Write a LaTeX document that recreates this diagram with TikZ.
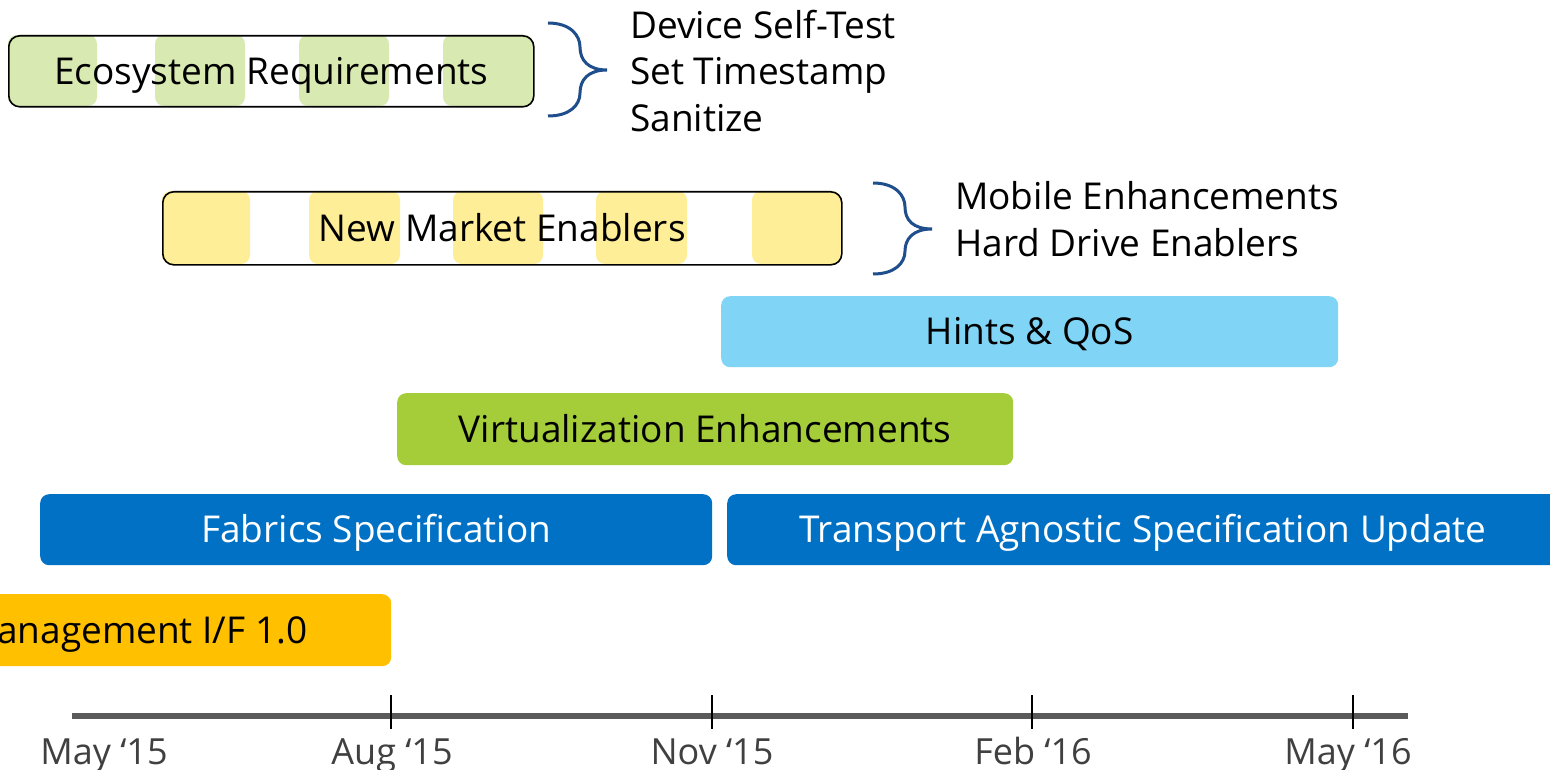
\documentclass[tikz,border=0pt]{standalone}
\usepackage{fontspec}
\setmainfont{Open Sans}
\definecolor{ecogreen}{RGB}{216,234,178}
\definecolor{nmyellow}{RGB}{255,238,152}
\definecolor{hintblue}{RGB}{128,212,246}
\definecolor{virtgreen}{RGB}{165,205,57}
\definecolor{fabblue}{RGB}{0,113,197}
\definecolor{mgmtyellow}{RGB}{255,192,0}
\definecolor{bracecol}{RGB}{31,78,140}
\definecolor{axisgray}{RGB}{90,90,90}
\definecolor{labelgray}{RGB}{64,64,64}
\newcommand{\mainsize}{\fontsize{37}{44}\selectfont}
\tikzset{
  box/.style={anchor=north west, inner sep=0pt, rounded corners=9pt},
  barlabel/.style={inner sep=0pt, anchor=base, font=\mainsize},
  patch/.style={rounded corners=9pt, draw=none},
  outline/.style={draw=black, line width=1.6pt, rounded corners=11pt},
  bracestyle/.style={draw=bracecol, line width=3pt},
  listtext/.style={anchor=west, align=left, inner sep=0pt, font=\fontsize{37}{46.5}\selectfont},
  axisline/.style={draw=axisgray, line width=6pt},
  tickline/.style={draw=black, line width=1.8pt},
  datelabel/.style={text=labelgray, inner sep=0pt, anchor=base, font=\fontsize{36}{40}\selectfont},
}
\begin{document}
\begin{tikzpicture}[x=1pt,y=-1pt]
\useasboundingbox (0,0) rectangle (1550,770);
\fill[white] (0,0) rectangle (1550,770);

% Ecosystem Requirements
\fill[white, rounded corners=11pt] (8,35) rectangle (533,106);
\foreach \a/\b in {8/97,155/245,299/389,443/533}
  \fill[ecogreen, patch] (\a,35) rectangle (\b,106);
\node[outline, anchor=north west, minimum width=525pt, minimum height=71pt, inner sep=0pt] (eco) at (8,35) {};
\node[barlabel] (ecotext) at ([yshift=-13pt]eco.center) {Ecosystem Requirements};

% brace 1
\coordinate (b1top) at (548,23);
\coordinate (b1tip) at (607,70);
\coordinate (b1bot) at (548,116);
\draw[bracestyle] (b1top) .. controls (570,23) and (580,35) .. (580,47)
  .. controls (580,60) and (588,70) .. (b1tip)
  .. controls (588,70) and (580,80) .. (580,93)
  .. controls (580,105) and (570,116) .. (b1bot);
\node[listtext] (list1) at (630,71) {Device Self-Test\\Set Timestamp\\Sanitize};

% New Market Enablers
\fill[white, rounded corners=11pt] (162,191) rectangle (841,264);
\foreach \a/\b in {162/250,309/400,453/543,596/687,752/841}
  \fill[nmyellow, patch] (\a,191) rectangle (\b,264);
\node[outline, anchor=north west, minimum width=679pt, minimum height=73pt, inner sep=0pt] (nme) at (162,191) {};
\node[barlabel] (nmetext) at ([yshift=-13pt]nme.center) {New Market Enablers};

% brace 2
\coordinate (b2top) at (873,183);
\coordinate (b2tip) at (932,229);
\coordinate (b2bot) at (873,274);
\draw[bracestyle] (b2top) .. controls (895,183) and (905,195) .. (905,207)
  .. controls (905,220) and (913,229) .. (b2tip)
  .. controls (913,229) and (905,239) .. (905,251)
  .. controls (905,263) and (895,274) .. (b2bot);
\node[listtext] (list2) at (955,219) {Mobile Enhancements\\Hard Drive Enablers};

% bars
\node[box, fill=hintblue, minimum width=617pt, minimum height=71pt] (hints) at (721,296) {};
\node[barlabel] (hintstext) at ([yshift=-13pt]hints.center) {Hints \& QoS};
\node[box, fill=virtgreen, minimum width=616pt, minimum height=72pt] (virt) at (397,393) {};
\node[barlabel] (virttext) at ([yshift=-13pt]virt.center) {Virtualization Enhancements};
\node[box, fill=fabblue, minimum width=672pt, minimum height=71pt] (fab) at (40,494) {};
\node[barlabel, text=white] (fabtext) at ([yshift=-13pt]fab.center) {Fabrics Specification};
\node[box, fill=fabblue, minimum width=843pt, minimum height=71pt] (tas) at (727,494) {};
\coordinate (tasc) at (1143,542.5);
\node[barlabel, text=white] (tastext) at (tasc) {Transport Agnostic Specification Update};
\node[box, fill=mgmtyellow, minimum width=411pt, minimum height=72pt] (mgmt) at (-20,594) {};
\node[anchor=base west, inner sep=0pt, font=\mainsize] (mgmttext) at (-3,643) {anagement I/F 1.0};

% axis
\coordinate (axL) at (72,716);
\coordinate (axR) at (1408,716);
\draw[axisline] (axL) -- (axR);
\foreach \x/\n in {391/t1,712/t2,1032/t3,1353/t4}{
  \coordinate (\n top) at (\x,695);
  \coordinate (\n bot) at (\x,729);
  \draw[tickline] (\n top) -- (\n bot);
}
\node[datelabel] (d1) at (104,764) {May ‘15};
\node[datelabel] (d2) at (392,764) {Aug ‘15};
\node[datelabel] (d3) at (712,764) {Nov ‘15};
\node[datelabel] (d4) at (1033,764) {Feb ‘16};
\node[datelabel] (d5) at (1348,764) {May ‘16};
\end{tikzpicture}
\end{document}
